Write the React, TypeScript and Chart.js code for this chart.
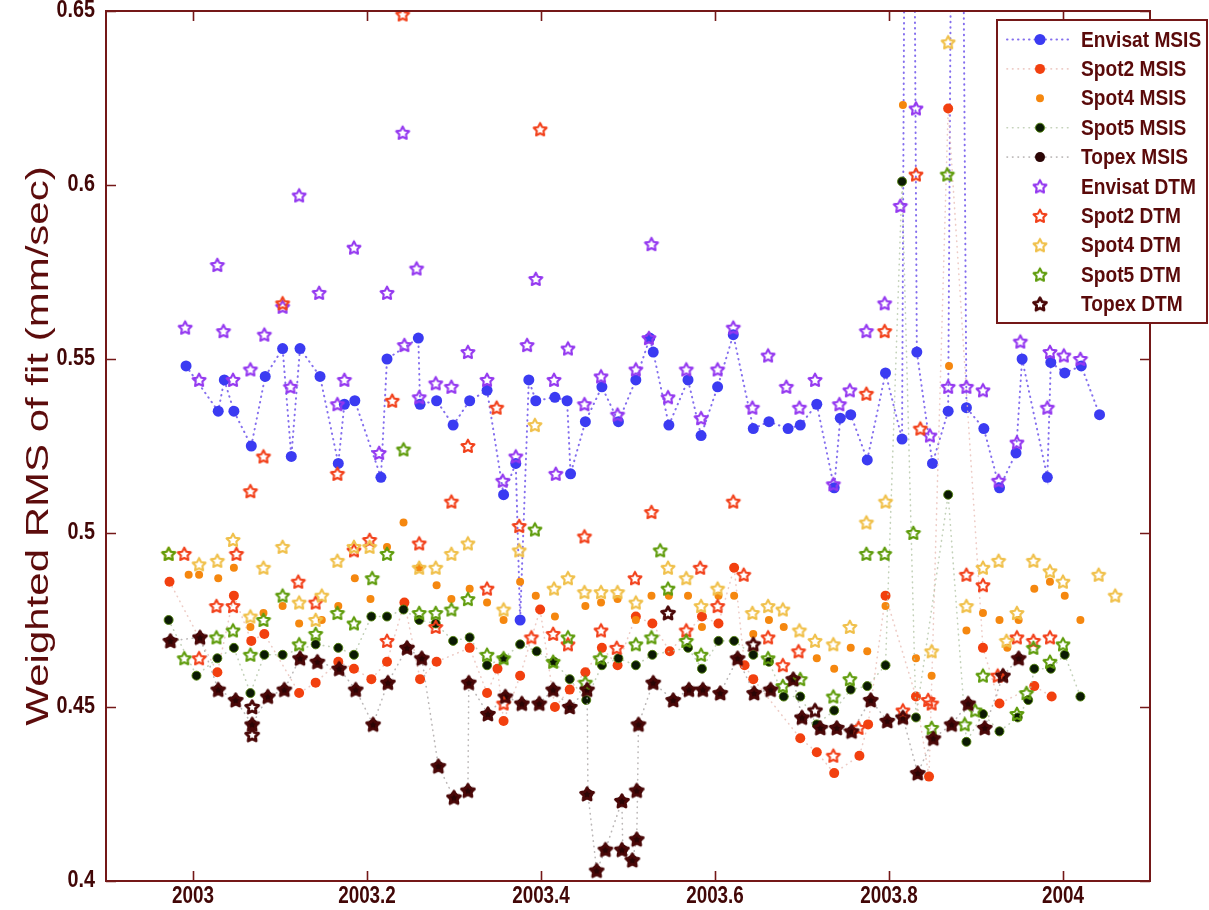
import React, { useEffect, useRef } from "react";
import { Chart, registerables } from "chart.js";
Chart.register(...registerables);

// ---------- axis ticks ----------
const xTicks = [2003, 2003.2, 2003.4, 2003.6, 2003.8, 2004];
const xTickLabels = ["2003", "2003.2", "2003.4", "2003.6", "2003.8", "2004"];
const yTicks = [0.4, 0.45, 0.5, 0.55, 0.6, 0.65];
const yTickLabels = ["0.4", "0.45", "0.5", "0.55", "0.6", "0.65"];
const yTitle = "Weighted RMS of fit (mm/sec)";

const seriesNames = [
  "Envisat MSIS", "Spot2 MSIS", "Spot4 MSIS", "Spot5 MSIS", "Topex MSIS",
  "Envisat DTM", "Spot2 DTM", "Spot4 DTM", "Spot5 DTM", "Topex DTM",
];

// ---------- data: [decimal year, weighted RMS] ----------
const envisatMsis: [number, number][] = [
  [2002.992, 0.548], [2003.029, 0.535], [2003.036, 0.544], [2003.047, 0.535], [2003.067, 0.525],
  [2003.083, 0.545], [2003.103, 0.553], [2003.113, 0.522], [2003.123, 0.553], [2003.146, 0.545],
  [2003.167, 0.520], [2003.174, 0.537], [2003.186, 0.538], [2003.216, 0.516], [2003.223, 0.550],
  [2003.259, 0.556], [2003.261, 0.537], [2003.280, 0.538], [2003.299, 0.531], [2003.318, 0.538],
  [2003.338, 0.541], [2003.357, 0.511], [2003.371, 0.520], [2003.376, 0.475], [2003.386, 0.544],
  [2003.394, 0.538], [2003.416, 0.539], [2003.430, 0.538], [2003.434, 0.517], [2003.451, 0.532],
  [2003.470, 0.542], [2003.489, 0.532], [2003.509, 0.544], [2003.525, 0.556], [2003.529, 0.552],
  [2003.547, 0.531], [2003.569, 0.544], [2003.584, 0.528], [2003.603, 0.542], [2003.621, 0.557],
  [2003.644, 0.530], [2003.662, 0.532], [2003.684, 0.530], [2003.698, 0.531], [2003.717, 0.537],
  [2003.737, 0.513], [2003.744, 0.533], [2003.756, 0.534], [2003.775, 0.521], [2003.796, 0.546],
  [2003.815, 0.527], [2003.823, 0.95], [2003.832, 0.552], [2003.850, 0.520], [2003.868, 0.535],
  [2003.878, 0.95], [2003.889, 0.536], [2003.909, 0.530], [2003.927, 0.513], [2003.946, 0.523],
  [2003.953, 0.550], [2003.982, 0.516], [2003.986, 0.549], [2004.002, 0.546], [2004.021, 0.548],
  [2004.042, 0.534],
];

const spot2Msis: [number, number][] = [
  [2002.973, 0.486], [2003.028, 0.460], [2003.047, 0.482], [2003.067, 0.469], [2003.082, 0.471],
  [2003.122, 0.454], [2003.141, 0.457], [2003.167, 0.463], [2003.185, 0.461], [2003.205, 0.458],
  [2003.223, 0.463], [2003.243, 0.480], [2003.261, 0.458], [2003.280, 0.463], [2003.318, 0.467],
  [2003.338, 0.454], [2003.350, 0.461], [2003.357, 0.446], [2003.376, 0.459], [2003.399, 0.478],
  [2003.416, 0.450], [2003.433, 0.455], [2003.451, 0.460], [2003.470, 0.467], [2003.488, 0.462],
  [2003.509, 0.476], [2003.528, 0.474], [2003.548, 0.466], [2003.585, 0.476], [2003.604, 0.474],
  [2003.622, 0.490], [2003.634, 0.462], [2003.644, 0.458], [2003.698, 0.441], [2003.717, 0.437],
  [2003.737, 0.431], [2003.766, 0.436], [2003.776, 0.445], [2003.796, 0.482], [2003.831, 0.453],
  [2003.846, 0.430], [2003.868, 0.622], [2003.908, 0.467], [2003.927, 0.451], [2003.967, 0.456],
  [2003.987, 0.453],
];

const spot4Msis: [number, number][] = [
  [2002.995, 0.488], [2003.007, 0.488], [2003.029, 0.487], [2003.047, 0.490], [2003.066, 0.473],
  [2003.081, 0.477], [2003.103, 0.479], [2003.122, 0.474], [2003.148, 0.475], [2003.167, 0.479],
  [2003.186, 0.487], [2003.204, 0.481], [2003.223, 0.496], [2003.242, 0.503], [2003.260, 0.490],
  [2003.280, 0.485], [2003.297, 0.481], [2003.318, 0.484], [2003.338, 0.480], [2003.357, 0.475],
  [2003.376, 0.486], [2003.394, 0.482], [2003.416, 0.476], [2003.451, 0.479], [2003.469, 0.480],
  [2003.488, 0.481], [2003.509, 0.475], [2003.527, 0.482], [2003.547, 0.482], [2003.569, 0.482],
  [2003.585, 0.473], [2003.604, 0.482], [2003.622, 0.482], [2003.644, 0.471], [2003.662, 0.475],
  [2003.679, 0.473], [2003.717, 0.464], [2003.737, 0.461], [2003.756, 0.467], [2003.775, 0.466],
  [2003.796, 0.479], [2003.816, 0.623], [2003.831, 0.464], [2003.849, 0.459], [2003.869, 0.548],
  [2003.889, 0.472], [2003.908, 0.477], [2003.927, 0.475], [2003.936, 0.467], [2003.949, 0.475],
  [2003.967, 0.484], [2003.985, 0.486], [2004.002, 0.482], [2004.020, 0.475],
];

const spot5Msis: [number, number][] = [
  [2002.972, 0.475], [2003.004, 0.459], [2003.028, 0.464], [2003.047, 0.467], [2003.066, 0.454],
  [2003.082, 0.465], [2003.103, 0.465], [2003.141, 0.468], [2003.167, 0.467], [2003.185, 0.465],
  [2003.205, 0.476], [2003.223, 0.476], [2003.242, 0.478], [2003.260, 0.475], [2003.279, 0.474],
  [2003.299, 0.469], [2003.318, 0.470], [2003.338, 0.462], [2003.357, 0.464], [2003.376, 0.468],
  [2003.395, 0.466], [2003.415, 0.463], [2003.433, 0.458], [2003.452, 0.452], [2003.470, 0.462],
  [2003.489, 0.464], [2003.509, 0.462], [2003.528, 0.465], [2003.569, 0.467], [2003.585, 0.461],
  [2003.604, 0.469], [2003.622, 0.469], [2003.644, 0.465], [2003.662, 0.463], [2003.679, 0.453],
  [2003.698, 0.453], [2003.717, 0.445], [2003.737, 0.449], [2003.756, 0.455], [2003.775, 0.456],
  [2003.796, 0.462], [2003.815, 0.601], [2003.831, 0.447], [2003.868, 0.511], [2003.889, 0.440],
  [2003.908, 0.448], [2003.927, 0.443], [2003.948, 0.447], [2003.960, 0.452], [2003.967, 0.461],
  [2003.986, 0.461], [2004.002, 0.465], [2004.020, 0.453],
];

const topexMsis: [number, number][] = [
  [2002.974, 0.469], [2003.008, 0.470], [2003.029, 0.455], [2003.049, 0.452], [2003.068, 0.445],
  [2003.086, 0.453], [2003.105, 0.455], [2003.123, 0.464], [2003.143, 0.463], [2003.168, 0.461],
  [2003.187, 0.455], [2003.207, 0.445], [2003.224, 0.457], [2003.246, 0.467], [2003.263, 0.464],
  [2003.282, 0.433], [2003.300, 0.424], [2003.316, 0.426], [2003.317, 0.457], [2003.339, 0.448],
  [2003.359, 0.453], [2003.378, 0.451], [2003.398, 0.451], [2003.414, 0.455], [2003.433, 0.450],
  [2003.453, 0.455], [2003.454, 0.425], [2003.464, 0.403], [2003.474, 0.409], [2003.493, 0.423],
  [2003.494, 0.409], [2003.505, 0.406], [2003.510, 0.412], [2003.511, 0.426], [2003.512, 0.445],
  [2003.529, 0.457], [2003.552, 0.452], [2003.570, 0.455], [2003.586, 0.455], [2003.606, 0.454],
  [2003.626, 0.464], [2003.645, 0.454], [2003.664, 0.455], [2003.690, 0.458], [2003.700, 0.447],
  [2003.721, 0.444], [2003.740, 0.444], [2003.757, 0.443], [2003.779, 0.452], [2003.798, 0.446],
  [2003.816, 0.447], [2003.833, 0.431], [2003.851, 0.441], [2003.872, 0.445], [2003.891, 0.451],
  [2003.910, 0.444], [2003.931, 0.459], [2003.949, 0.464],
];

const envisatDtm: [number, number][] = [
  [2002.991, 0.559], [2003.007, 0.544], [2003.028, 0.577], [2003.035, 0.558], [2003.046, 0.544],
  [2003.066, 0.547], [2003.082, 0.557], [2003.103, 0.565], [2003.112, 0.542], [2003.122, 0.597],
  [2003.145, 0.569], [2003.166, 0.537], [2003.174, 0.544], [2003.185, 0.582], [2003.214, 0.523],
  [2003.223, 0.569], [2003.241, 0.615], [2003.243, 0.554], [2003.257, 0.576], [2003.260, 0.539],
  [2003.279, 0.543], [2003.297, 0.542], [2003.316, 0.552], [2003.338, 0.544], [2003.356, 0.515],
  [2003.371, 0.522], [2003.384, 0.554], [2003.394, 0.573], [2003.415, 0.544], [2003.417, 0.517],
  [2003.431, 0.553], [2003.450, 0.537], [2003.469, 0.545], [2003.488, 0.534], [2003.509, 0.547],
  [2003.524, 0.556], [2003.527, 0.583], [2003.546, 0.539], [2003.567, 0.547], [2003.584, 0.533],
  [2003.603, 0.547], [2003.621, 0.559], [2003.643, 0.536], [2003.661, 0.551], [2003.682, 0.542],
  [2003.697, 0.536], [2003.715, 0.544], [2003.736, 0.514], [2003.743, 0.537], [2003.755, 0.541],
  [2003.774, 0.558], [2003.795, 0.566], [2003.813, 0.594], [2003.831, 0.622], [2003.847, 0.528],
  [2003.868, 0.542], [2003.889, 0.542], [2003.908, 0.541], [2003.926, 0.515], [2003.947, 0.526],
  [2003.951, 0.555], [2003.982, 0.536], [2003.985, 0.552], [2004.001, 0.551], [2004.020, 0.550],
];

const spot2Dtm: [number, number][] = [
  [2002.990, 0.494], [2003.007, 0.464], [2003.027, 0.479], [2003.046, 0.479], [2003.050, 0.494],
  [2003.066, 0.512], [2003.081, 0.522], [2003.103, 0.566], [2003.121, 0.486], [2003.141, 0.480],
  [2003.166, 0.517], [2003.185, 0.495], [2003.203, 0.498], [2003.223, 0.469], [2003.229, 0.538],
  [2003.241, 0.649], [2003.260, 0.497], [2003.279, 0.473], [2003.297, 0.509], [2003.316, 0.525],
  [2003.338, 0.484], [2003.349, 0.536], [2003.357, 0.451], [2003.375, 0.502], [2003.389, 0.470],
  [2003.399, 0.616], [2003.414, 0.471], [2003.431, 0.468], [2003.450, 0.499], [2003.469, 0.472],
  [2003.487, 0.467], [2003.508, 0.487], [2003.527, 0.506], [2003.567, 0.472], [2003.583, 0.490],
  [2003.603, 0.479], [2003.621, 0.509], [2003.633, 0.488], [2003.661, 0.470], [2003.678, 0.462],
  [2003.696, 0.466], [2003.736, 0.436], [2003.765, 0.444], [2003.774, 0.540], [2003.795, 0.558],
  [2003.816, 0.449], [2003.831, 0.603], [2003.836, 0.530], [2003.845, 0.452], [2003.849, 0.451],
  [2003.889, 0.488], [2003.908, 0.485], [2003.925, 0.459], [2003.947, 0.470], [2003.966, 0.469],
  [2003.985, 0.470],
];

const spot4Dtm: [number, number][] = [
  [2002.972, 0.494], [2003.007, 0.491], [2003.028, 0.492], [2003.046, 0.498], [2003.066, 0.476],
  [2003.081, 0.490], [2003.103, 0.496], [2003.122, 0.480], [2003.141, 0.475], [2003.148, 0.482],
  [2003.166, 0.492], [2003.185, 0.496], [2003.203, 0.496], [2003.260, 0.490], [2003.279, 0.490],
  [2003.297, 0.494], [2003.316, 0.497], [2003.357, 0.478], [2003.375, 0.495], [2003.393, 0.531],
  [2003.415, 0.484], [2003.431, 0.487], [2003.450, 0.483], [2003.469, 0.483], [2003.488, 0.483],
  [2003.509, 0.480], [2003.546, 0.490], [2003.567, 0.487], [2003.584, 0.479], [2003.603, 0.484],
  [2003.643, 0.477], [2003.661, 0.479], [2003.678, 0.478], [2003.697, 0.472], [2003.715, 0.469],
  [2003.736, 0.468], [2003.755, 0.473], [2003.774, 0.503], [2003.796, 0.509], [2003.849, 0.466],
  [2003.868, 0.641], [2003.889, 0.479], [2003.908, 0.490], [2003.926, 0.492], [2003.935, 0.469],
  [2003.947, 0.477], [2003.966, 0.492], [2003.985, 0.489], [2004.000, 0.486], [2004.041, 0.488],
  [2004.060, 0.482],
];

const spot5Dtm: [number, number][] = [
  [2002.972, 0.494], [2002.990, 0.464], [2003.027, 0.470], [2003.046, 0.472], [2003.066, 0.465],
  [2003.081, 0.475], [2003.103, 0.482], [2003.122, 0.468], [2003.141, 0.471], [2003.166, 0.477],
  [2003.185, 0.474], [2003.206, 0.487], [2003.223, 0.494], [2003.242, 0.524], [2003.260, 0.477],
  [2003.279, 0.477], [2003.297, 0.478], [2003.316, 0.481], [2003.338, 0.465], [2003.357, 0.464],
  [2003.393, 0.501], [2003.414, 0.463], [2003.431, 0.470], [2003.451, 0.457], [2003.468, 0.464],
  [2003.509, 0.468], [2003.527, 0.470], [2003.537, 0.495], [2003.546, 0.484], [2003.567, 0.469],
  [2003.584, 0.465], [2003.661, 0.464], [2003.678, 0.456], [2003.698, 0.458], [2003.736, 0.453],
  [2003.755, 0.458], [2003.774, 0.494], [2003.795, 0.494], [2003.828, 0.500], [2003.849, 0.444],
  [2003.867, 0.603], [2003.887, 0.445], [2003.899, 0.449], [2003.908, 0.459], [2003.947, 0.448],
  [2003.958, 0.454], [2003.966, 0.467], [2003.985, 0.463], [2004.000, 0.468],
];

const topexDtm: [number, number][] = [
  [2002.974, 0.469], [2003.008, 0.470], [2003.029, 0.455], [2003.049, 0.452], [2003.068, 0.450],
  [2003.068, 0.445], [2003.068, 0.442], [2003.086, 0.453], [2003.105, 0.455], [2003.123, 0.464],
  [2003.143, 0.463], [2003.168, 0.461], [2003.187, 0.455], [2003.207, 0.445], [2003.224, 0.457],
  [2003.246, 0.467], [2003.263, 0.464], [2003.282, 0.433], [2003.300, 0.424], [2003.316, 0.426],
  [2003.317, 0.457], [2003.339, 0.448], [2003.359, 0.453], [2003.378, 0.451], [2003.398, 0.451],
  [2003.414, 0.455], [2003.433, 0.450], [2003.453, 0.455], [2003.453, 0.425], [2003.464, 0.403],
  [2003.474, 0.409], [2003.493, 0.423], [2003.493, 0.409], [2003.505, 0.406], [2003.510, 0.412],
  [2003.510, 0.426], [2003.512, 0.445], [2003.529, 0.457], [2003.546, 0.477], [2003.552, 0.452],
  [2003.570, 0.455], [2003.586, 0.455], [2003.606, 0.454], [2003.626, 0.464], [2003.644, 0.468],
  [2003.645, 0.454], [2003.664, 0.455], [2003.690, 0.458], [2003.700, 0.447], [2003.715, 0.449],
  [2003.721, 0.444], [2003.740, 0.444], [2003.757, 0.443], [2003.779, 0.452], [2003.798, 0.446],
  [2003.816, 0.447], [2003.833, 0.431], [2003.851, 0.441], [2003.872, 0.445], [2003.891, 0.451],
  [2003.910, 0.444], [2003.931, 0.459], [2003.949, 0.464],
];

// ---------- styling ----------
const FRAME = "#741818";
const TEXT = "#420707";
const FONT = "'Liberation Sans', Arial, Helvetica, sans-serif";

type Style = {
  kind: "circle" | "star";
  color: string;
  radius?: number;
  border?: string;
  line?: string | null;
  lineWidth?: number;
  starWidth?: number;
};

const styles: Style[] = [
  { kind: "circle", color: "#3b3bf2", radius: 5.5, line: "rgba(110,85,235,0.85)", lineWidth: 2 },
  { kind: "circle", color: "#f2400f", radius: 5, line: "rgba(232,190,182,0.8)", lineWidth: 1.6 },
  { kind: "circle", color: "#f5870f", radius: 4, line: null },
  { kind: "circle", color: "#0b1a04", radius: 4.5, border: "rgba(80,130,10,0.9)", line: "rgba(180,198,168,0.8)", lineWidth: 1.6 },
  { kind: "circle", color: "#2b0505", radius: 5, line: "rgba(170,165,165,0.8)", lineWidth: 1.6 },
  { kind: "star", color: "#9438f0", starWidth: 2.1 },
  { kind: "star", color: "#f2401a", starWidth: 2.1 },
  { kind: "star", color: "#f0c04a", starWidth: 2.1 },
  { kind: "star", color: "#5f9c0c", starWidth: 2.1 },
  { kind: "star", color: "#4a0808", starWidth: 2.8 },
];

const allSeries = [
  envisatMsis, spot2Msis, spot4Msis, spot5Msis, topexMsis,
  envisatDtm, spot2Dtm, spot4Dtm, spot5Dtm, topexDtm,
];

function makeStar(color: string, lw: number): HTMLCanvasElement {
  const size = 18;
  const R = 6.8;
  const r = 3.5;
  const c = document.createElement("canvas");
  c.width = size;
  c.height = size;
  const g = c.getContext("2d")!;
  g.beginPath();
  for (let i = 0; i < 10; i++) {
    const a = -Math.PI / 2 + (i * Math.PI) / 5;
    const rad = i % 2 === 0 ? R : r;
    const px = size / 2 + rad * Math.cos(a);
    const py = size / 2 + 0.5 + rad * Math.sin(a);
    if (i === 0) g.moveTo(px, py);
    else g.lineTo(px, py);
  }
  g.closePath();
  g.lineJoin = "round";
  g.lineWidth = lw;
  g.strokeStyle = color;
  g.stroke();
  return c;
}

export default function App() {
  const ref = useRef<HTMLCanvasElement | null>(null);

  useEffect(() => {
    const canvas = ref.current;
    if (!canvas) return;
    const starImgs = styles.map((s) => (s.kind === "star" ? makeStar(s.color, s.starWidth || 2) : null));

    const datasets = allSeries.map((data, i) => {
      const s = styles[i];
      const base: any = {
        label: seriesNames[i],
        data: data.map(([x, y]) => ({ x, y })),
        order: 20 - i,
        clip: 0,
        showLine: !!s.line,
        borderColor: s.line || "transparent",
        borderWidth: s.lineWidth || 0,
        borderDash: [0.5, 5],
        borderCapStyle: "round",
        tension: 0,
      };
      if (s.kind === "circle") {
        base.pointStyle = "circle";
        base.pointRadius = s.radius;
        base.pointBackgroundColor = s.color;
        base.pointBorderColor = s.border || s.color;
        base.pointBorderWidth = s.border ? 1 : 0;
      } else {
        base.pointStyle = starImgs[i];
        base.pointRadius = 7;
      }
      return base;
    });

    const drawText = (ctx: CanvasRenderingContext2D, text: string, x: number, y: number, k: number, align: CanvasTextAlign) => {
      ctx.save();
      ctx.translate(x, y);
      ctx.scale(k, 1);
      ctx.textAlign = align;
      ctx.fillText(text, 0, 0);
      ctx.restore();
    };

    const decor = {
      id: "decor",
      afterDraw(chart: any) {
        const ctx: CanvasRenderingContext2D = chart.ctx;
        const { left, right, top, bottom } = chart.chartArea;
        const xs = chart.scales.x;
        const ys = chart.scales.y;
        ctx.save();
        // frame
        ctx.strokeStyle = FRAME;
        ctx.lineWidth = 2;
        ctx.strokeRect(left, top, right - left, bottom - top);
        // inward ticks
        ctx.lineWidth = 1.6;
        ctx.beginPath();
        xTicks.forEach((v) => {
          const px = Math.round(xs.getPixelForValue(v)) + 0.5;
          ctx.moveTo(px, bottom);
          ctx.lineTo(px, bottom - 10);
          ctx.moveTo(px, top);
          ctx.lineTo(px, top + 10);
        });
        yTicks.forEach((v) => {
          const py = Math.round(ys.getPixelForValue(v)) + 0.5;
          ctx.moveTo(left, py);
          ctx.lineTo(left + 10, py);
          ctx.moveTo(right, py);
          ctx.lineTo(right - 10, py);
        });
        ctx.stroke();
        // tick labels
        ctx.fillStyle = TEXT;
        ctx.font = `bold 23px ${FONT}`;
        ctx.textBaseline = "middle";
        xTicks.forEach((v, i) => {
          drawText(ctx, xTickLabels[i], xs.getPixelForValue(v), bottom + 16, 0.82, "center");
        });
        yTicks.forEach((v, i) => {
          drawText(ctx, yTickLabels[i], left - 11, ys.getPixelForValue(v), 0.86, "right");
        });
        // y title
        ctx.save();
        ctx.fillStyle = "#5c0c0c";
        ctx.font = `42px ${FONT}`;
        ctx.translate(39, (top + bottom) / 2);
        ctx.scale(0.74, 1);
        ctx.rotate(-Math.PI / 2);
        ctx.textAlign = "center";
        ctx.textBaseline = "middle";
        ctx.fillText(yTitle, 0, 0);
        ctx.restore();

        // legend
        const lx = 997;
        const ly = 20;
        const lw = chart.width - lx - 2;
        const lh = 303;
        ctx.fillStyle = "#ffffff";
        ctx.fillRect(lx, ly, lw, lh);
        ctx.strokeStyle = FRAME;
        ctx.lineWidth = 2;
        ctx.strokeRect(lx, ly, lw, lh);
        seriesNames.forEach((name, i) => {
          const s = styles[i];
          const cy = ly + 19.5 + i * 29.4;
          const mx = lx + 43;
          if (s.line) {
            ctx.save();
            ctx.strokeStyle = s.line;
            ctx.lineWidth = s.lineWidth || 1;
            ctx.setLineDash([0.5, 5]);
            ctx.lineCap = "round";
            ctx.beginPath();
            ctx.moveTo(lx + 10, cy);
            ctx.lineTo(lx + 74, cy);
            ctx.stroke();
            ctx.restore();
          }
          if (s.kind === "circle") {
            ctx.beginPath();
            ctx.arc(mx, cy, s.radius || 4, 0, Math.PI * 2);
            ctx.fillStyle = s.color;
            ctx.fill();
            if (s.border) {
              ctx.strokeStyle = s.border;
              ctx.lineWidth = 1;
              ctx.stroke();
            }
          } else {
            const img = starImgs[i]!;
            ctx.drawImage(img, mx - img.width / 2, cy - img.height / 2);
          }
          ctx.fillStyle = "#5a0a0a";
          ctx.font = `bold 22px ${FONT}`;
          ctx.textBaseline = "middle";
          drawText(ctx, name, lx + 84, cy + 1, 0.87, "left");
        });
        ctx.restore();
      },
    };

    const chart = new Chart(canvas, {
      type: "scatter",
      data: { datasets },
      options: {
        animation: false,
        responsive: false,
        devicePixelRatio: 1,
        events: [],
        layout: { padding: { left: 106, right: 59, top: 11, bottom: 29 } },
        scales: {
          x: { type: "linear", min: 2002.9, max: 2004.1, display: false },
          y: { type: "linear", min: 0.4, max: 0.65, display: false },
        },
        plugins: { legend: { display: false }, tooltip: { enabled: false } },
      },
      plugins: [decor],
    } as any);

    return () => chart.destroy();
  }, []);

  return (
    <div style={{ position: "fixed", left: 0, top: 0, width: 1209, height: 910, background: "#ffffff" }}>
      <canvas ref={ref} width={1209} height={910} style={{ display: "block" }} />
    </div>
  );
}
